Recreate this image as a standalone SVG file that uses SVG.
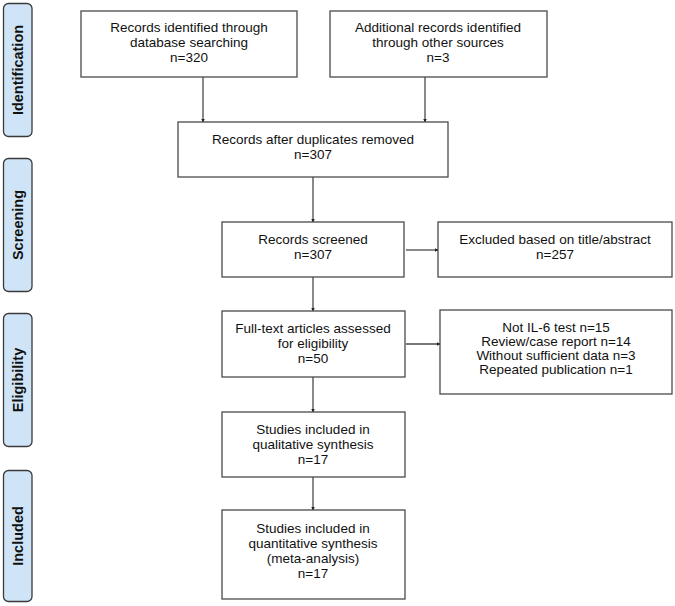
<svg xmlns="http://www.w3.org/2000/svg" width="675" height="606" viewBox="0 0 675 606">
<defs>
<style>
.box{fill:#fff;stroke:#4a4a4a;stroke-width:1.3}
.side{fill:#cfe5f7;stroke:#3a3a3a;stroke-width:1.3}
.t{font-family:"Liberation Sans",Arial,sans-serif;font-size:13.5px;fill:#111;text-anchor:middle}
.s{font-family:"Liberation Sans",Arial,sans-serif;font-size:14.5px;font-weight:bold;fill:#111;text-anchor:middle}
.c{stroke:#4a4a4a;stroke-width:1.3;fill:none;marker-end:url(#ah)}
</style>
<marker id="ah" markerWidth="4" markerHeight="4" refX="3.5" refY="2" orient="auto" markerUnits="userSpaceOnUse">
<path d="M0,0 L4,2 L0,4 Z" fill="#222"/>
</marker>
</defs>
<rect width="675" height="606" fill="#fff"/>
<g id="side-identification"><rect class="side" x="3.5" y="3.5" width="28.5" height="133" rx="5"/><text class="s" transform="translate(23,70) rotate(-90)">Identification</text></g>
<g id="side-screening"><rect class="side" x="3.5" y="158.5" width="28.5" height="133" rx="5"/><text class="s" transform="translate(23,225) rotate(-90)">Screening</text></g>
<g id="side-eligibility"><rect class="side" x="3.5" y="313.5" width="28.5" height="133" rx="5"/><text class="s" transform="translate(23,380) rotate(-90)">Eligibility</text></g>
<g id="side-included"><rect class="side" x="3.5" y="470.5" width="28.5" height="131" rx="5"/><text class="s" transform="translate(23,536) rotate(-90)">Included</text></g>
<g id="connectors">
<line class="c" x1="203" y1="77" x2="203" y2="122"/>
<line class="c" x1="425" y1="77" x2="425" y2="122"/>
<line class="c" x1="313" y1="177" x2="313" y2="222"/>
<line class="c" x1="406" y1="250" x2="438" y2="250"/>
<line class="c" x1="313" y1="277" x2="313" y2="311"/>
<line class="c" x1="406" y1="344" x2="440" y2="344"/>
<line class="c" x1="313" y1="377" x2="313" y2="412"/>
<line class="c" x1="313" y1="477" x2="313" y2="510"/>
</g>
<g id="n1"><rect class="box" x="81" y="11" width="216" height="66"/><text class="t" x="189" y="32">Records identified through</text><text class="t" x="189" y="47">database searching</text><text class="t" x="189" y="62">n=320</text></g>
<g id="n2"><rect class="box" x="330" y="11" width="217" height="66"/><text class="t" x="438" y="32">Additional records identified</text><text class="t" x="438" y="47">through other sources</text><text class="t" x="438" y="62">n=3</text></g>
<g id="n3"><rect class="box" x="178" y="122" width="270" height="55"/><text class="t" x="313" y="144">Records after duplicates removed</text><text class="t" x="313" y="159">n=307</text></g>
<g id="n4"><rect class="box" x="222" y="222" width="182" height="55"/><text class="t" x="313" y="244">Records screened</text><text class="t" x="313" y="259">n=307</text></g>
<g id="n5"><rect class="box" x="438" y="222" width="234" height="55"/><text class="t" x="555" y="244">Excluded based on title/abstract</text><text class="t" x="555" y="259">n=257</text></g>
<g id="n6"><rect class="box" x="222" y="311" width="183" height="66"/><text class="t" x="313" y="333">Full-text articles assessed</text><text class="t" x="313" y="348">for eligibility</text><text class="t" x="313" y="363">n=50</text></g>
<g id="n7"><rect class="box" x="440" y="310" width="232" height="84"/><text class="t" x="556" y="332">Not IL-6 test n=15</text><text class="t" x="556" y="346">Review/case report n=14</text><text class="t" x="556" y="360">Without sufficient data n=3</text><text class="t" x="556" y="374">Repeated publication n=1</text></g>
<g id="n8"><rect class="box" x="222" y="412" width="183" height="65"/><text class="t" x="313" y="434">Studies included in</text><text class="t" x="313" y="449">qualitative synthesis</text><text class="t" x="313" y="464">n=17</text></g>
<g id="n9"><rect class="box" x="222" y="510" width="183" height="89"/><text class="t" x="313" y="533">Studies included in</text><text class="t" x="313" y="548">quantitative synthesis</text><text class="t" x="313" y="563">(meta-analysis)</text><text class="t" x="313" y="578">n=17</text></g>
</svg>
